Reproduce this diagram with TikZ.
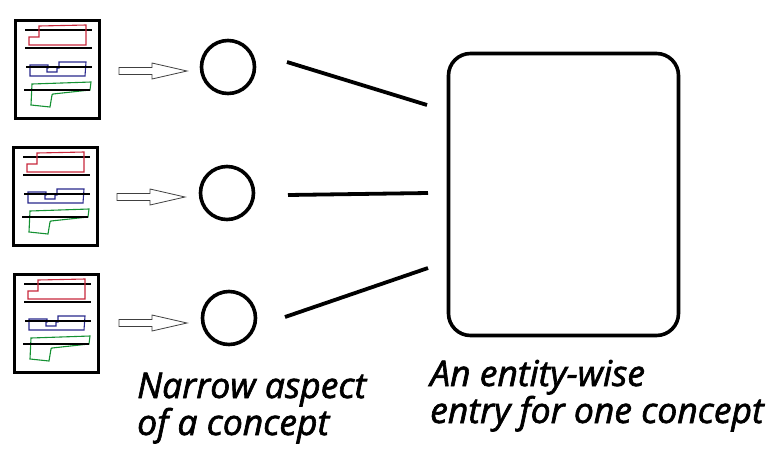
\documentclass[tikz,border=0pt]{standalone}
\usepackage{fontspec}
\setmainfont{Open Sans}
\newfontfamily\lblfont[FakeBold=1.8]{Open Sans}
\begin{document}
\begin{tikzpicture}[x=1pt,y=-1pt,
  docbox/.style={draw,line width=2.6pt,minimum width=84pt,minimum height=98pt,inner sep=0pt,anchor=north west},
  concept/.style={draw,circle,line width=3.6pt,minimum size=53pt,inner sep=0pt},
  entry/.style={draw,rounded corners=22pt,line width=3.6pt,minimum width=230pt,minimum height=282pt,inner sep=0pt},
  link/.style={line width=3.8pt},
  rule/.style={line width=2pt},
  trace/.style={line width=1.1pt},
  hollow/.style={draw=black!75,line width=0.8pt,fill=white},
  lbl/.style={anchor=base west,align=left,inner sep=0pt,font=\lblfont\fontsize{35.5}{37}\selectfont\itshape}]
\useasboundingbox (0,0) rectangle (777,451);
\definecolor{rd}{RGB}{200,40,60}
\definecolor{bl}{RGB}{40,40,140}
\definecolor{gr}{RGB}{20,145,50}
\newcommand{\docinside}[1]{%
  \begin{scope}[shift={(#1.north west)}]
    \draw[rule] (11,11) -- (78,11);
    \draw[rd,trace] (15,26) -- (15,18) -- (25,18) -- (25,7) -- (72,6) -- (72,26) -- cycle;
    \draw[rule] (11,29) -- (78,29);
    \draw[bl,trace] (16,57) -- (16,46) -- (34,46) -- (34,49) -- (33,49) -- (33,53) -- (43,53) -- (43,49) -- (45,49) -- (45,43) -- (72,43) -- (71,57) -- cycle;
    \draw[rule] (12,48) -- (78,48);
    \draw[gr,trace] (18,65) -- (77,63) -- (76,71) -- (39,75) -- (38,76) -- (36,88) -- (17,86) -- cycle;
    \draw[rule] (10,71) -- (76,71);
  \end{scope}}
\newcommand{\hollowarrow}[2]{%
  \draw[hollow] (#1,#2) ++(0,-3.5) -- ++(33,0) -- ++(0,-4.5) -- ++(35,8) -- ++(-35,8) -- ++(0,-4.5) -- ++(-33,0) -- cycle;}
% documents
\node[docbox] (b1) at (14,19) {};
\node[docbox] (b2) at (12,146) {};
\node[docbox] (b3) at (13,273) {};
\docinside{b1}
\docinside{b2}
\docinside{b3}
% arrows
\hollowarrow{119}{71}
\hollowarrow{117}{197}
\hollowarrow{119}{323}
% circles
\node[concept] (c1) at (228,67) {};
\node[concept] (c2) at (227,193) {};
\node[concept] (c3) at (229,318) {};
% entry
\node[entry] (e) at (563.5,194.5) {};
\coordinate (s1) at (287,62);
\coordinate (t1) at (427,105);
\coordinate (s2) at (288,195);
\coordinate (t2) at (428,193);
\coordinate (s3) at (285,317);
\coordinate (t3) at (428,268);
\draw[link] (s1) -- (t1);
\draw[link] (s2) -- (t2);
\draw[link] (s3) -- (t3);
% labels
\node[lbl] (l1) at (137,435) {Narrow aspect\\of a concept};
\node[lbl] (l2) at (430,423) {An entity-wise\\entry for one concept};
\end{tikzpicture}
\end{document}
